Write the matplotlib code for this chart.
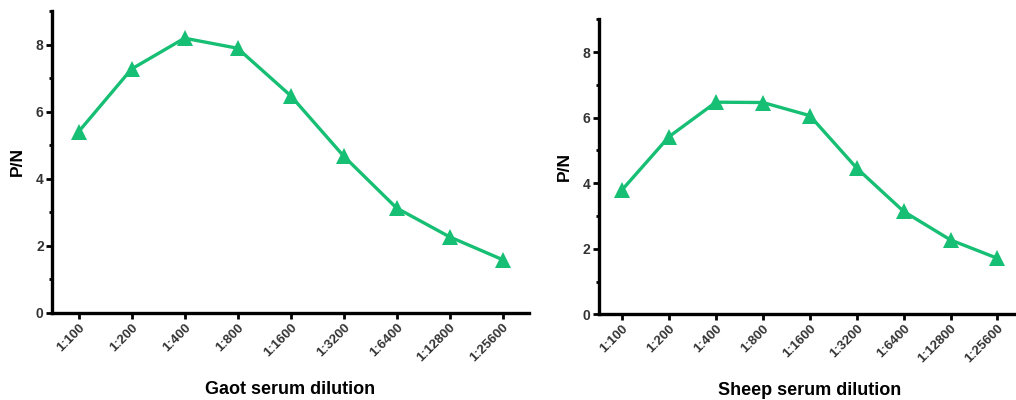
import matplotlib
matplotlib.use("Agg")
import matplotlib.pyplot as plt
from matplotlib.ticker import MultipleLocator

plt.rcParams['font.family'] = ['Liberation Sans', 'DejaVu Sans']

dilutions = ["1:100", "1:200", "1:400", "1:800", "1:1600",
             "1:3200", "1:6400", "1:12800", "1:25600"]
goat_pn = [5.40, 7.27, 8.19, 7.89, 6.48, 4.68, 3.13, 2.27, 1.59]
sheep_pn = [3.80, 5.42, 6.47, 6.46, 6.06, 4.46, 3.14, 2.27, 1.71]

GREEN = "#17BF74"

fig = plt.figure(figsize=(10.16, 4.0), dpi=100)

panels = [
    (goat_pn, "Gaot serum dilution", [0.0512, 0.2175, 0.4695, 0.755]),
    (sheep_pn, "Sheep serum dilution", [0.5893, 0.214, 0.4155, 0.738]),
]

for values, xlabel, rect in panels:
    ax = fig.add_axes(rect)
    x = list(range(len(dilutions)))
    ax.plot(x, values, color=GREEN, linewidth=2.4, marker="^",
            markersize=12, markeredgewidth=0, clip_on=False, zorder=3)
    ax.set_xlim(-0.5, 8.5)
    ax.set_ylim(0, 9)
    ax.set_xticks(x)
    ax.set_xticklabels(dilutions, rotation=45, ha="right",
                       rotation_mode="anchor", fontsize=9.5,
                       fontweight="bold", color="#333333")
    ax.yaxis.set_major_locator(MultipleLocator(2))
    ax.yaxis.set_minor_locator(MultipleLocator(1))
    for lab in ax.get_yticklabels():
        lab.set_fontsize(10)
        lab.set_fontweight("bold")
        lab.set_color("#333333")
    ax.tick_params(axis="both", which="major", length=4, width=2,
                   color="black", pad=2)
    ax.tick_params(axis="y", which="minor", length=2.5, width=2,
                   color="black")
    ax.tick_params(axis="x", which="minor", length=0)
    for side in ("top", "right"):
        ax.spines[side].set_visible(False)
    for side in ("left", "bottom"):
        ax.spines[side].set_linewidth(2.4)
    ax.set_ylabel("P/N", fontsize=12.5, fontweight="bold", labelpad=8)
    ax.set_xlabel(xlabel, fontsize=13, fontweight="bold", labelpad=12)

fig.savefig("out.png", dpi=100)
